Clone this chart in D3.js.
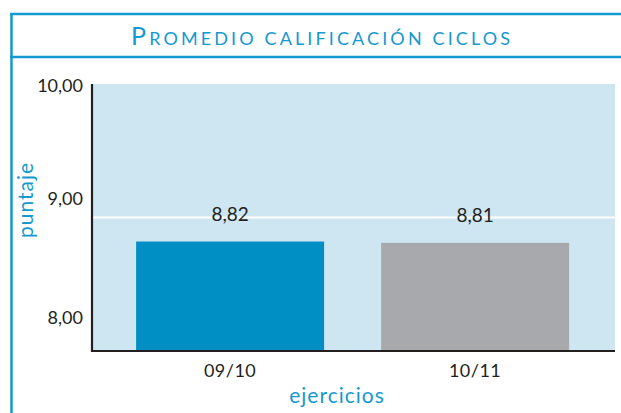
<!DOCTYPE html>
<html>
<head>
<meta charset="utf-8">
<script src="https://cdn.jsdelivr.net/npm/d3@7/dist/d3.min.js"></script>
<style>
  body { margin: 0; background: #fff; }
  svg { display: block; font-family: Lato, "Open Sans", sans-serif; }
</style>
</head>
<body>
<svg width="621" height="413"></svg>
<script>
// data
const categories = ['09/10', '10/11'];
const values = [8.82, 8.81];
const barColors = ['#008fc5', '#a7a9ac'];
const yTicks = [8, 9, 10];
const title = 'Promedio calificación ciclos';
const xTitle = 'ejercicios';
const yTitle = 'puntaje';

const svg = d3.select('svg');
const width = +svg.attr('width');

const blue = '#1599d1';
const ink = '#231f20';

// plot box
const margin = {top: 84, left: 92, right: 6, bottom: 62};
const plot = {x0: margin.left, x1: width - margin.right, y0: margin.top, y1: 413 - margin.bottom};

const esFormat = d3.formatLocale({decimal: ',', thousands: '.', grouping: [3], currency: ['', '€']}).format('.2f');

//frame round the chart
svg.append('line')
   .attr('x1', 11.5).attr('x2', 11.5).attr('y1', 13).attr('y2', 413)
   .attr('stroke', blue).attr('stroke-width', 2.5);
svg.append('line')
   .attr('x1', 10).attr('x2', width).attr('y1', 14).attr('y2', 14)
   .attr('stroke', blue).attr('stroke-width', 2.5);
svg.append('line')
   .attr('x1', 10).attr('x2', width).attr('y1', 57).attr('y2', 57)
   .attr('stroke', blue).attr('stroke-width', 2.5);

//title in small caps: first letter big, the rest smaller capitals
const titleText = svg.append('text')
   .attr('x', 131).attr('y', 45)
   .attr('textLength', 379)
   .attr('lengthAdjust', 'spacing')
   .attr('fill', blue);
titleText.append('tspan')
   .attr('font-size', 25)
   .text(title.charAt(0).toUpperCase());
titleText.append('tspan')
   .attr('font-size', 18)
   .text(title.slice(1).toUpperCase());

//scales
const xScale = d3.scaleBand()
    .domain(categories)
    .range([plot.x0, plot.x1])
    .paddingInner(0.2327)
    .paddingOuter(0.1837)
    .align(0.49);

const yScale = d3.scaleLinear()
    .domain([8, 10])
    .range([plot.y1, plot.y0]);

//background
svg.append('rect')
   .attr('x', plot.x0).attr('y', plot.y0)
   .attr('width', plot.x1 - plot.x0).attr('height', plot.y1 - plot.y0)
   .attr('fill', '#cee5f2');

//white grid line
svg.append('g').selectAll('line')
   .data(yTicks.filter(t => t > 8 && t < 10))
   .enter().append('line')
   .attr('x1', plot.x0).attr('x2', plot.x1)
   .attr('y1', d => yScale(d)).attr('y2', d => yScale(d))
   .attr('stroke', '#fff').attr('stroke-width', 2);

//bars
svg.append('g').selectAll('rect')
   .data(values)
   .enter().append('rect')
   .attr('x', (d, i) => xScale(categories[i]))
   .attr('y', d => yScale(d))
   .attr('width', xScale.bandwidth())
   .attr('height', d => yScale(8) - yScale(d))
   .attr('fill', (d, i) => barColors[i]);

//value labels
svg.append('g').selectAll('text')
   .data(values)
   .enter().append('text')
   .text(d => esFormat(d))
   .attr('x', (d, i) => xScale(categories[i]) + xScale.bandwidth() / 2)
   .attr('y', d => yScale(d) - 21)
   .attr('text-anchor', 'middle')
   .attr('font-size', 19)
   .attr('fill', ink);

//axes
const yAxis = d3.axisLeft(yScale)
    .tickValues(yTicks)
    .tickFormat(esFormat)
    .tickSize(0)
    .tickPadding(9);

const xAxis = d3.axisBottom(xScale)
    .tickSize(0)
    .tickSizeOuter(0)
    .tickPadding(13);

const gy = svg.append('g')
    .attr('transform', `translate(${plot.x0},0)`)
    .call(yAxis);

const gx = svg.append('g')
    .attr('transform', `translate(0,${plot.y1})`)
    .call(xAxis);

// the original sets its tick labels a bit above the tick values
const labelNudge = {8: -33, 9: -19, 10: 2};
gy.selectAll('.tick text')
  .attr('y', d => labelNudge[d] || 0);

svg.selectAll('.domain')
   .attr('stroke', ink).attr('stroke-width', 2.2);
gy.select('.domain').attr('d', `M0,${plot.y0}V${plot.y1 + 1}`);
gx.select('.domain').attr('d', `M${plot.x0 - 1},0H${plot.x1}`);

svg.selectAll('.tick text')
   .attr('fill', ink)
   .attr('font-family', 'Lato, "Open Sans", sans-serif');
gy.selectAll('.tick text').attr('font-size', 18);
gx.selectAll('.tick text').attr('font-size', 18).attr('letter-spacing', 0.5);

//axis titles
svg.append('text')
   .text(xTitle)
   .attr('x', 337).attr('y', 403)
   .attr('text-anchor', 'middle')
   .attr('font-size', 21)
   .attr('letter-spacing', 1)
   .attr('fill', blue);

svg.append('text')
   .text(yTitle)
   .attr('transform', 'translate(33,200) rotate(-90)')
   .attr('text-anchor', 'middle')
   .attr('font-size', 21)
   .attr('letter-spacing', 1)
   .attr('fill', blue);
</script>
</body>
</html>
